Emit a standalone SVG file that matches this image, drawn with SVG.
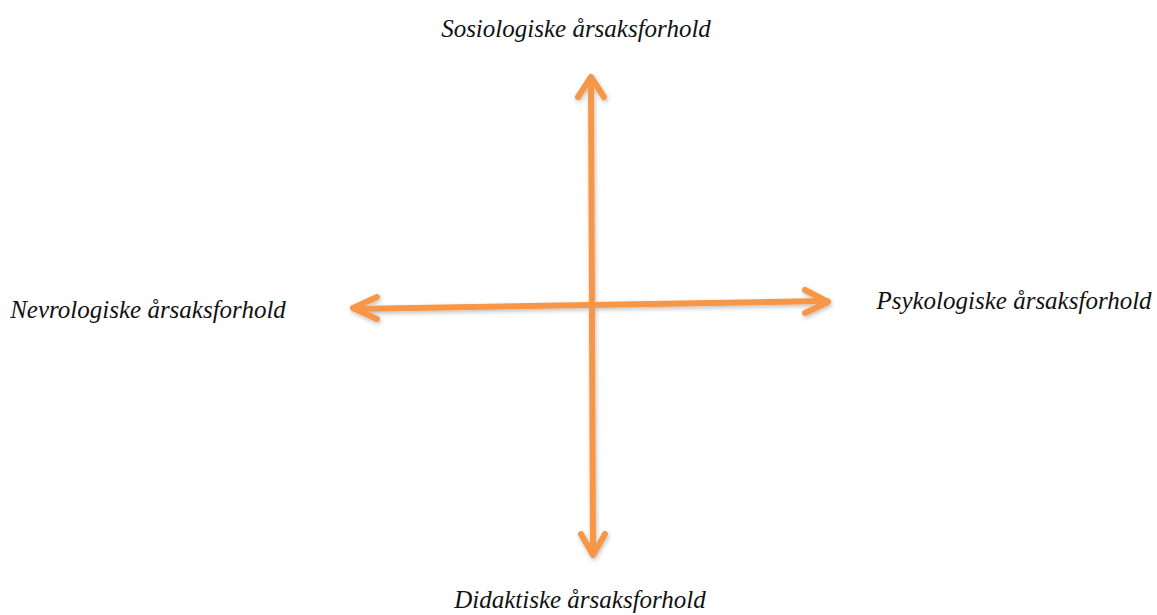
<svg xmlns="http://www.w3.org/2000/svg" width="1157" height="615" viewBox="0 0 1157 615">
<defs>
<filter id="sh" x="-10%" y="-10%" width="120%" height="120%">
<feDropShadow dx="1" dy="2" stdDeviation="2" flood-color="#000" flood-opacity="0.25"/>
</filter>
</defs>
<style>
.lbl{font-family:"Liberation Serif","Times New Roman",serif;font-style:italic;font-size:25px;fill:#111111}
.ar{fill:none;stroke:#F79646;stroke-width:6;stroke-linecap:round;stroke-linejoin:round}
</style>
<rect width="1157" height="615" fill="#ffffff"/>
<g id="connectors" filter="url(#sh)">
<path class="ar" d="M591,78 L593,554"/>
<path class="ar" d="M578,97 L591,77 L604,97"/>
<path class="ar" d="M581,534 L593,555 L605,534"/>
<path class="ar" d="M355,309 L827,301"/>
<path class="ar" d="M377,297 L353,308 L377,319"/>
<path class="ar" d="M805,290 L828,302 L805,313"/>
</g>
<g id="node-top"><text class="lbl" x="576" y="37" text-anchor="middle">Sosiologiske årsaksforhold</text></g>
<g id="node-left"><text class="lbl" x="148" y="318" text-anchor="middle">Nevrologiske årsaksforhold</text></g>
<g id="node-right"><text class="lbl" x="1014" y="309" text-anchor="middle">Psykologiske årsaksforhold</text></g>
<g id="node-bottom"><text class="lbl" x="580" y="608" text-anchor="middle">Didaktiske årsaksforhold</text></g>
</svg>
